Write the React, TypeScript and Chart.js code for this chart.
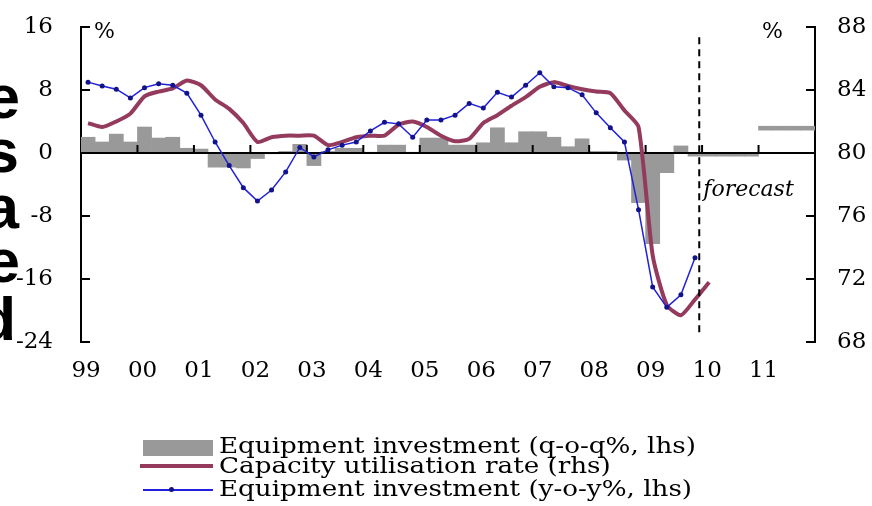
import React, { useEffect, useRef } from "react";
import { Chart, registerables } from "chart.js";

Chart.register(...registerables);

// ---- categories / tick labels ----
const yearLabels = ["99", "00", "01", "02", "03", "04", "05", "06", "07", "08", "09", "10", "11"];
const quarterNames = ["Q1", "Q2", "Q3", "Q4"];
const quarterLabels = yearLabels.flatMap((y) => quarterNames.map((q) => `${y}${q}`));
const leftTicks = [16, 8, 0, -8, -16, -24];
const rightTicks = [88, 84, 80, 76, 72, 68];

// ---- series (quarterly) ----
// Equipment investment, q-o-q %, lhs (bars)
const qoqInvestment = [
  2.0, 1.4, 2.4, 1.4,
  3.3, 1.9, 2.0, 0.6,
  0.5, -1.8, -1.8, -1.9,
  -0.7, -0.1, 0.2, 1.1,
  -1.6, 0.2, 0.6, 0.6,
  0.1, 1.0, 1.0, 0.1,
  1.9, 1.9, 1.0, 1.0,
  1.3, 3.2, 1.3, 2.7,
  2.7, 2.0, 0.8, 1.8,
  0.2, 0.2, -0.9, -6.3,
  -11.5, -2.5, 0.9, -0.4,
  -0.4, -0.4, -0.4, -0.4,
  null, null, null, null,
];
// 2011 forecast level (q-o-q %, lhs) shown as a thin band
const qoqForecastBand = [
  ...Array(48).fill(null),
  [2.9, 3.4], [2.9, 3.4], [2.9, 3.4], [2.9, 3.4],
];
// Capacity utilisation rate, %, rhs
const capacityUtilisation = [
  81.9, 81.65, 82.0, 82.5,
  83.6, 83.9, 84.1, 84.6,
  84.3, 83.4, 82.8, 81.9,
  80.7, 81.0, 81.1, 81.1,
  81.1, 80.5, 80.7, 81.0,
  81.1, 81.1, 81.8, 82.0,
  81.65, 81.1, 80.75, 80.9,
  81.9, 82.4, 83.0, 83.55,
  84.2, 84.5, 84.25, 84.05,
  83.9, 83.8, 82.7, 81.65,
  73.5, 70.35, 69.7, 70.7,
  71.8, null, null, null,
  null, null, null, null,
];
// Equipment investment, y-o-y %, lhs
const yoyInvestment = [
  9.0, 8.5, 8.1, 7.0,
  8.3, 8.8, 8.6, 7.6,
  4.8, 1.4, -1.6, -4.4,
  -6.1, -4.7, -2.4, 0.7,
  -0.5, 0.4, 1.0, 1.4,
  2.8, 3.9, 3.7, 2.0,
  4.2, 4.2, 4.8, 6.3,
  5.7, 7.7, 7.1, 8.6,
  10.2, 8.4, 8.3, 7.4,
  5.1, 3.2, 1.4, -7.2,
  -17.0, -19.6, -18.0, -13.3,
  null, null, null, null,
  null, null, null, null,
];

const GRAY = "#999999";
const RED = "#943a5c";
const BLUE = "#2020dd";
const DOT = "#12128c";
const FONT = "'DejaVu Serif', serif";
const CLEAR = "rgba(0,0,0,0)";

const decorPlugin = {
  id: "decor",
  afterDatasetDraw(chart: any, args: any) {
    if (args.index !== 0) return;
    const { ctx, chartArea, scales } = chart;
    const x = scales.x;
    const y = scales.y;
    const y0 = Math.round(y.getPixelForValue(0));
    ctx.save();
    ctx.strokeStyle = "#000";
    ctx.lineWidth = 2;
    ctx.beginPath();
    ctx.moveTo(chartArea.left, y0);
    ctx.lineTo(chartArea.right, y0);
    ctx.stroke();
    const w = x.getPixelForValue(1) - x.getPixelForValue(0);
    for (let k = 1; k < yearLabels.length; k++) {
      const bx = x.getPixelForValue(k * 4) - w / 2;
      ctx.beginPath();
      ctx.moveTo(bx, y0);
      ctx.lineTo(bx, y0 - 8);
      ctx.stroke();
    }
    ctx.restore();
  },
  afterDraw(chart: any) {
    const { ctx, chartArea, scales } = chart;
    const x = scales.x;
    const y = scales.y;
    const y2 = scales.y2;
    ctx.save();
    ctx.strokeStyle = "#000";
    ctx.lineWidth = 2;
    // inner tick marks on both value axes
    leftTicks.forEach((v) => {
      const py = Math.round(y.getPixelForValue(v));
      ctx.beginPath();
      ctx.moveTo(chartArea.left, py);
      ctx.lineTo(chartArea.left + 9, py);
      ctx.stroke();
    });
    rightTicks.forEach((v) => {
      const py = Math.round(y2.getPixelForValue(v));
      ctx.beginPath();
      ctx.moveTo(chartArea.right, py);
      ctx.lineTo(chartArea.right - 9, py);
      ctx.stroke();
    });
    // forecast divider
    const w = x.getPixelForValue(1) - x.getPixelForValue(0);
    const fx = x.getPixelForValue(43) + w * 0.3;
    ctx.setLineDash([7, 5]);
    ctx.beginPath();
    ctx.moveTo(fx, y.getPixelForValue(14.7));
    ctx.lineTo(fx, y.getPixelForValue(-23.1));
    ctx.stroke();
    ctx.setLineDash([]);
    // texts
    ctx.fillStyle = "#000";
    ctx.textBaseline = "middle";
    ctx.font = `italic 22px ${FONT}`;
    ctx.textAlign = "left";
    ctx.fillText("forecast", fx + 4, y.getPixelForValue(-4.7));
    ctx.font = `22px ${FONT}`;
    ctx.fillText("%", chartArea.left + 13, y.getPixelForValue(15.3));
    ctx.textAlign = "right";
    ctx.fillText("%", chartArea.right - 32, y.getPixelForValue(15.3));
    ctx.restore();
  },
};

const legendText: React.CSSProperties = {
  position: "absolute",
  left: 219,
  fontFamily: FONT,
  fontSize: 22,
  lineHeight: "22px",
  whiteSpace: "nowrap",
  color: "#000",
  transform: "scaleX(1.19)",
  transformOrigin: "left center",
};

const bigLetter: React.CSSProperties = {
  position: "absolute",
  width: 100,
  textAlign: "right",
  fontFamily: "'Liberation Sans', Arial, sans-serif",
  fontWeight: 700,
  fontSize: 62,
  lineHeight: "62px",
  color: "#000",
};

const sideLetters = ["e", "s", "a", "e", "d"];
const sideBaselines = [118, 172, 228, 282, 340];
const sideRight = [20, 19, 19, 20, 16];

export default function App() {
  const ref = useRef<HTMLCanvasElement>(null);

  useEffect(() => {
    if (!ref.current) return;
    const tickFont = { family: FONT, size: 23 };
    const chart = new Chart(ref.current, {
      type: "bar",
      data: {
        labels: quarterLabels,
        datasets: [
          {
            type: "bar",
            label: "Equipment investment (q-o-q%, lhs)",
            data: qoqInvestment as any,
            yAxisID: "y",
            backgroundColor: GRAY,
            borderWidth: 0,
            barPercentage: 1,
            categoryPercentage: 1,
            grouped: false,
            order: 3,
          },
          {
            type: "bar",
            label: "Forecast",
            data: qoqForecastBand as any,
            yAxisID: "y",
            backgroundColor: GRAY,
            borderWidth: 0,
            barPercentage: 1,
            categoryPercentage: 1,
            grouped: false,
            order: 4,
          },
          {
            type: "line",
            label: "Capacity utilisation rate (rhs)",
            data: capacityUtilisation as any,
            yAxisID: "y2",
            borderColor: RED,
            borderWidth: 4,
            pointRadius: 0,
            tension: 0.2,
            order: 2,
          },
          {
            type: "line",
            label: "Equipment investment (y-o-y%, lhs)",
            data: yoyInvestment as any,
            yAxisID: "y",
            borderColor: BLUE,
            borderWidth: 1.5,
            pointRadius: 2.5,
            pointBackgroundColor: DOT,
            pointBorderWidth: 0,
            tension: 0,
            order: 1,
          },
        ],
      },
      options: {
        animation: false,
        responsive: false,
        devicePixelRatio: 1,
        layout: { padding: { top: 27, bottom: 120, left: 0, right: 0 } },
        plugins: { legend: { display: false }, tooltip: { enabled: false } },
        scales: {
          x: {
            type: "category",
            offset: true,
            grid: { display: false, drawTicks: false },
            border: { display: false },
            ticks: {
              autoSkip: false,
              maxRotation: 0,
              minRotation: 0,
              padding: 15,
              labelOffset: -2,
              color: "#000",
              font: tickFont,
              callback: (_v: any, i: number) => (i % 4 === 0 ? yearLabels[i / 4] : ""),
            },
            afterFit: (s: any) => {
              s.height = 44;
            },
          },
          y: {
            position: "left",
            min: Math.min(...leftTicks),
            max: Math.max(...leftTicks),
            ticks: { stepSize: leftTicks[0] - leftTicks[1], padding: 2, color: "#000", font: tickFont },
            grid: { display: true, drawOnChartArea: false, drawTicks: true, tickLength: 26, color: CLEAR },
            border: { display: true, color: "#000", width: 2 },
            afterFit: (s: any) => {
              s.width = 81;
            },
          },
          y2: {
            position: "right",
            min: Math.min(...rightTicks),
            max: Math.max(...rightTicks),
            ticks: { stepSize: rightTicks[0] - rightTicks[1], padding: 2, color: "#000", font: tickFont },
            grid: { display: true, drawOnChartArea: false, drawTicks: true, tickLength: 20, color: CLEAR },
            border: { display: true, color: "#000", width: 2 },
            afterFit: (s: any) => {
              s.width = 57;
            },
          },
        },
      },
      plugins: [decorPlugin],
    } as any);
    return () => chart.destroy();
  }, []);

  return (
    <div style={{ position: "fixed", left: 0, top: 0, width: 872, height: 506, background: "#fff", overflow: "hidden" }}>
      <canvas ref={ref} width={872} height={506} style={{ display: "block", width: 872, height: 506 }} />
      {sideLetters.map((ch, i) => (
        <div key={i} style={{ ...bigLetter, left: sideRight[i] - 100, top: sideBaselines[i] - 52 }}>
          {ch}
        </div>
      ))}
      <div style={{ position: "absolute", left: 143, top: 440, width: 70, height: 16, background: GRAY }} />
      <div style={{ position: "absolute", left: 140, top: 464, width: 73, height: 4, background: RED }} />
      <div style={{ position: "absolute", left: 143, top: 489, width: 70, height: 1.5, background: BLUE }} />
      <div style={{ position: "absolute", left: 169, top: 487, width: 5, height: 5, borderRadius: 3, background: DOT }} />
      <div style={{ ...legendText, top: 435 }}>Equipment investment (q-o-q%, lhs)</div>
      <div style={{ ...legendText, top: 455 }}>Capacity utilisation rate (rhs)</div>
      <div style={{ ...legendText, top: 478 }}>Equipment investment (y-o-y%, lhs)</div>
    </div>
  );
}
